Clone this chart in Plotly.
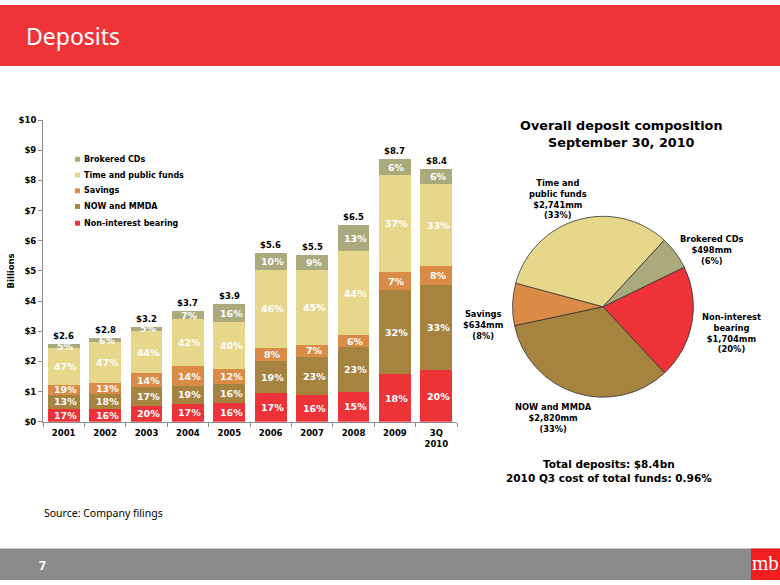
import plotly.graph_objects as go

W, H = 780, 585

# ---------------- data ----------------
years = ["2001", "2002", "2003", "2004", "2005", "2006", "2007", "2008", "2009", "3Q<br>2010"]
series_names = ["Non-interest bearing", "NOW and MMDA", "Savings", "Time and public funds", "Brokered CDs"]
series_colors = ["#EE3338", "#A6833F", "#DA8B46", "#E6D78B", "#ABAA7D"]

# segment sizes in $ billions
nonint = [0.41, 0.42, 0.53, 0.60, 0.62, 0.95, 0.88, 0.98, 1.57, 1.70]
nowmmda = [0.49, 0.49, 0.63, 0.59, 0.62, 1.06, 1.27, 1.50, 2.78, 2.82]
savings = [0.33, 0.37, 0.44, 0.65, 0.51, 0.45, 0.39, 0.38, 0.61, 0.63]
timepub = [1.22, 1.35, 1.40, 1.55, 1.55, 2.58, 2.48, 2.80, 3.22, 2.74]
brokered = [0.12, 0.15, 0.15, 0.28, 0.60, 0.56, 0.50, 0.85, 0.52, 0.50]

# printed labels
pct_nonint = ["17%", "16%", "20%", "17%", "16%", "17%", "16%", "15%", "18%", "20%"]
pct_now = ["13%", "18%", "17%", "19%", "16%", "19%", "23%", "23%", "32%", "33%"]
pct_sav = ["19%", "13%", "14%", "14%", "12%", "8%", "7%", "6%", "7%", "8%"]
pct_time = ["47%", "47%", "44%", "42%", "40%", "46%", "45%", "44%", "37%", "33%"]
pct_brok = ["5%", "6%", "5%", "7%", "16%", "10%", "9%", "13%", "6%", "6%"]
total_labels = ["$2.6", "$2.8", "$3.2", "$3.7", "$3.9", "$5.6", "$5.5", "$6.5", "$8.7", "$8.4"]

# pie (September 30, 2010), $mm
pie_names = ["Non-interest bearing", "NOW and MMDA", "Savings", "Time and public funds", "Brokered CDs"]
pie_label_names = ["Non-interest<br>bearing", "NOW and MMDA", "Savings", "Time and<br>public funds", "Brokered CDs"]
pie_values = [1704, 2820, 634, 2741, 498]
pie_pct = ["20%", "33%", "8%", "33%", "6%"]

# ---------------- helpers ----------------
def px(x):
    return x / W

def py(y):
    return 1 - y / H

BOLD = "DejaVu Sans"

fig = go.Figure()

seg_values = [nonint, nowmmda, savings, timepub, brokered]
seg_labels = [pct_nonint, pct_now, pct_sav, pct_time, pct_brok]

for name, vals, col in zip(series_names, seg_values, series_colors):
    fig.add_trace(go.Bar(
        x=years, y=vals, name=name,
        marker=dict(color=col, line=dict(width=0)),
        showlegend=False, hoverinfo="x+y+name",
        xaxis="x", yaxis="y",
    ))

annotations = []

# percentage labels in the middle of each segment (x given as category index)
cum = [0.0] * len(years)
for vals, labs in zip(seg_values, seg_labels):
    for i, (v, lab) in enumerate(zip(vals, labs)):
        annotations.append(dict(
            x=i, y=cum[i] + v / 2, xref="x", yref="y",
            text="<b>" + lab + "</b>", showarrow=False, xshift=2,
            font=dict(family=BOLD, size=9.5, color="white"),
        ))
        cum[i] += v

# totals above bars
for i, lab in enumerate(total_labels):
    annotations.append(dict(
        x=i, y=cum[i], xref="x", yref="y",
        text="<b>" + lab + "</b>", showarrow=False, yanchor="bottom", yshift=1,
        font=dict(family=BOLD, size=8.5, color="black"),
    ))

# pie chart
fig.add_trace(go.Pie(
    labels=pie_names, values=pie_values,
    marker=dict(colors=series_colors, line=dict(color="#333333", width=0.8)),
    sort=False, direction="clockwise", rotation=64,
    textinfo="none", showlegend=False,
    domain=dict(x=[px(511), px(695)], y=[py(399), py(215)]),
))

# pie labels
pie_label_pos = [(731, 334), (553, 420), (483, 326), (558, 197), (712, 249)]
for name, v, p, (lx, ly) in zip(pie_label_names, pie_values, pie_pct, pie_label_pos):
    annotations.append(dict(
        x=px(lx), y=py(ly), xref="paper", yref="paper",
        text="<b>" + name + "<br>$" + format(v, ",") + "mm<br>(" + p + ")</b>",
        showarrow=False, xanchor="center", yanchor="middle", align="center",
        font=dict(family=BOLD, size=8.3, color="black"),
    ))

annotations.append(dict(
    x=px(621), y=py(131), xref="paper", yref="paper",
    text="<b>Overall deposit composition<br>September 30, 2010</b>",
    showarrow=False, xanchor="center", yanchor="middle", align="center",
    font=dict(family=BOLD, size=12.8, color="black"),
))
annotations.append(dict(
    x=px(609), y=py(474), xref="paper", yref="paper",
    text="<b>Total deposits: $8.4bn<br>2010 Q3 cost of total funds: 0.96%</b>",
    showarrow=False, xanchor="center", yanchor="middle", align="center",
    font=dict(family=BOLD, size=10.5, color="black"),
))

# custom legend (top to bottom)
shapes = []
legend_y = [157, 173, 189, 205, 222]
for (name, col), ly in zip(list(zip(series_names, series_colors))[::-1], legend_y):
    shapes.append(dict(type="rect", xref="paper", yref="paper",
                       x0=px(75), x1=px(80), y0=py(ly + 2.5), y1=py(ly - 2.5),
                       fillcolor=col, line=dict(width=0)))
    annotations.append(dict(
        x=px(82), y=py(ly), xref="paper", yref="paper",
        text="<b>" + name + "</b>", showarrow=False, xanchor="left", yanchor="middle",
        font=dict(family=BOLD, size=8, color="black"),
    ))

# slide decorations
shapes.append(dict(type="rect", xref="paper", yref="paper", x0=0, x1=1, y0=py(62), y1=1,
                   fillcolor="#EE3439", line=dict(width=0), layer="below"))
shapes.append(dict(type="rect", xref="paper", yref="paper", x0=0, x1=1, y0=0, y1=py(553),
                   fillcolor="#8A8B8D", line=dict(width=0), layer="below"))
shapes.append(dict(type="rect", xref="paper", yref="paper", x0=px(751), x1=1, y0=0, y1=py(553),
                   fillcolor="#F21E22", line=dict(width=0), layer="below"))

annotations.append(dict(x=px(24), y=py(32), xref="paper", yref="paper", text="Deposits",
                        showarrow=False, xanchor="left", yanchor="middle",
                        font=dict(family="Noto Sans", size=23, color="white")))
annotations.append(dict(x=px(42), y=py(517), xref="paper", yref="paper", text="Source: Company filings",
                        showarrow=False, xanchor="left", yanchor="middle",
                        font=dict(family="Noto Sans", size=10.5, color="black")))
annotations.append(dict(x=px(42), y=py(570), xref="paper", yref="paper", text="<b>7</b>",
                        showarrow=False, xanchor="center", yanchor="middle",
                        font=dict(family="Noto Sans", size=12, color="white")))
annotations.append(dict(x=px(765.5), y=py(568), xref="paper", yref="paper", text="mb",
                        showarrow=False, xanchor="center", yanchor="middle",
                        font=dict(family="Liberation Serif", size=21, color="white")))

fig.update_layout(
    width=W, height=H,
    margin=dict(l=0, r=0, t=0, b=0),
    paper_bgcolor="white", plot_bgcolor="white",
    barmode="stack", bargap=0.23,
    showlegend=False,
    xaxis=dict(
        domain=[px(43), px(457)], type="category", tickson="boundaries",
        range=[-0.5, len(years) - 0.5], autorange=False,
        ticks="outside", ticklen=4, tickcolor="#8C8C8C", tickangle=0,
        ticklabelstandoff=3,
        showline=True, linecolor="#8C8C8C", linewidth=1,
        showgrid=False, zeroline=False, anchor="y",
        tickfont=dict(family=BOLD, size=8.5, color="black", weight="bold"),
    ),
    yaxis=dict(
        domain=[py(424), py(117)], range=[0, 10], autorange=False, dtick=1, tickprefix="$",
        ticks="outside", ticklen=4, tickcolor="#8C8C8C",
        showline=True, linecolor="#8C8C8C", linewidth=1,
        showgrid=False, zeroline=False, anchor="x",
        tickfont=dict(family=BOLD, size=8.5, color="black", weight="bold"),
        title=dict(text="<b>Billions</b>", standoff=2,
                   font=dict(family=BOLD, size=8.5, color="black")),
    ),
    annotations=annotations,
    shapes=shapes,
)

fig.write_html("out.html")
